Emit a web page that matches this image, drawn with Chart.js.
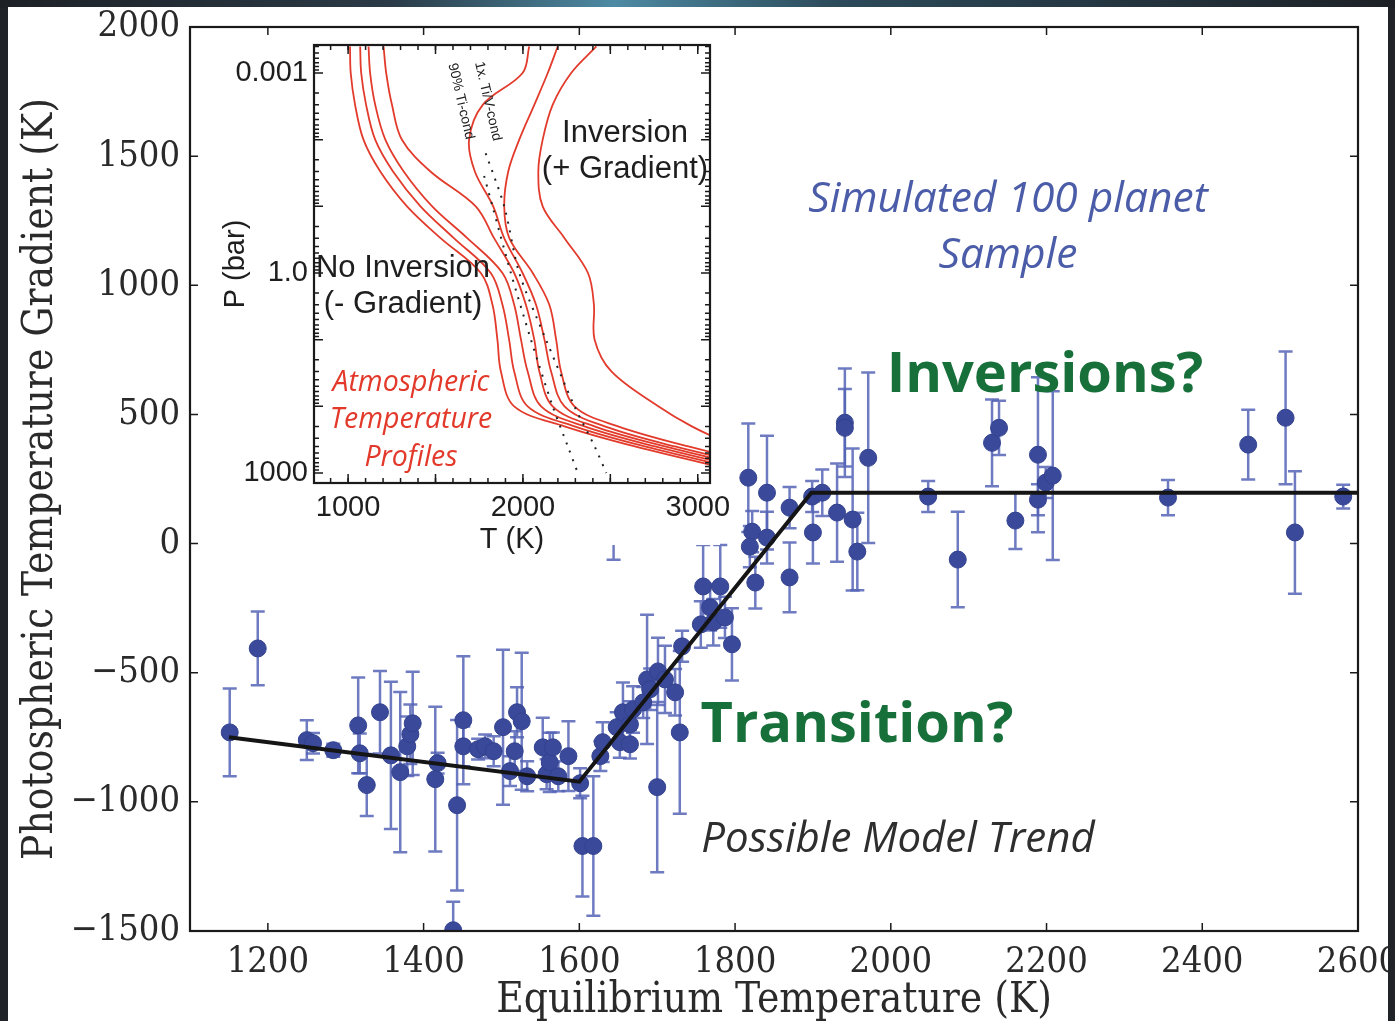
<!DOCTYPE html>
<html>
<head>
<meta charset="utf-8">
<script src="https://cdn.jsdelivr.net/npm/chart.js@4.4.1/dist/chart.umd.min.js"></script>
<style>
  html, body { margin: 0; padding: 0; }
  body { width: 1395px; height: 1021px; background: #202327; position: relative; overflow: hidden; }
  #topglow { position: absolute; left: 0; top: 0; width: 1395px; height: 8px;
    background: linear-gradient(90deg, #1d2126 0%, #2a3a46 28%, #4d8aa3 44%, #2c4a5a 60%, #1d2126 100%); }
  #panel { position: absolute; left: 8px; top: 7px; width: 1380px; height: 1014px; background: #fff; }
  #mainCanvas { position: absolute; left: 0; top: 0; }
  #insetCanvas { position: absolute; left: 192px; top: 31px; }
  .note { position: absolute; white-space: nowrap; transform: translate(-50%, -50%); z-index: 5; line-height: 1; }
  .big { font-family: "Open Sans", sans-serif; font-weight: 700; color: #17703a; font-size: 56px; }
  .blue { font-family: "Open Sans", sans-serif; font-style: italic; color: #4b5ca8; font-size: 42.5px; }
  .trend { font-family: "Open Sans", sans-serif; font-style: italic; color: #2e2e2e; font-size: 42px; }
  .ins { font-family: "Liberation Sans", Arial, sans-serif; color: #1e1e1e; font-size: 31px; }
  .red { font-family: "Open Sans", sans-serif; font-style: italic; color: #e2392a; font-size: 28.5px; }
  .cond { font-family: "Liberation Sans", Arial, sans-serif; color: #222; font-size: 14px;
    transform: translate(-50%, -50%) rotate(77deg); }
</style>
</head>
<body>
<div id="topglow"></div>
<div id="panel">
  <canvas id="mainCanvas" width="1380" height="1014"></canvas>
  <canvas id="insetCanvas" width="545" height="520"></canvas>
</div>

<div class="note blue" style="left:1008px; top:196px;">Simulated 100 planet</div>
<div class="note blue" style="left:1008px; top:252px;">Sample</div>
<div class="note big" style="left:1045px; top:370px;">Inversions?</div>
<div class="note big" style="left:857px; top:720px;">Transition?</div>
<div class="note trend" style="left:898px; top:836px;">Possible Model Trend</div>

<div class="note ins" style="left:625px; top:131px;">Inversion</div>
<div class="note ins" style="left:625px; top:167px;">(+ Gradient)</div>
<div class="note ins" style="left:403px; top:266px;">No Inversion</div>
<div class="note ins" style="left:403px; top:302px;">(- Gradient)</div>
<div class="note red" style="left:411px; top:380px;">Atmospheric</div>
<div class="note red" style="left:411px; top:417px;">Temperature</div>
<div class="note red" style="left:411px; top:455px;">Profiles</div>
<div class="note cond" style="left:489px; top:101px;">1x. Ti/V-cond</div>
<div class="note cond" style="left:462px; top:101px;">90% Ti-cond</div>

<script>
// ---- main chart data ----
const planetTemp = [1151, 1187, 1250, 1258, 1284, 1316, 1318, 1327, 1344, 1358,
  1370, 1379, 1383, 1386, 1418, 1415, 1443, 1438, 1451, 1451,
  1470, 1479, 1490, 1502, 1511, 1517, 1520, 1526, 1533, 1553,
  1558, 1562, 1566, 1573, 1586, 1601, 1604, 1618, 1627, 1630,
  1648, 1656, 1652, 1665, 1665, 1669, 1682, 1687, 1691, 1701,
  1710, 1723, 1700, 1729, 1732, 1756, 1768, 1772, 1787, 1796,
  1759, 1781, 1817, 1841, 1822, 1819, 1841, 1826, 1870, 1870,
  1899, 1912, 1900, 1931, 1941, 1941, 1951, 1957, 1971, 2048,
  2086, 2130, 2139, 2160, 2189, 2189, 2199, 2208, 2356, 2459,
  2507, 2519, 2581, 1644];
const planetGrad = [-731, -406, -761, -773, -800, -704, -812, -935, -653, -820,
  -885, -785, -738, -696, -850, -912, -1013, -1497, -684, -785,
  -796, -785, -804, -711, -881, -804, -653, -688, -901, -789,
  -893, -847, -789, -901, -823, -928, -1171, -1171, -823, -769,
  -711, -653, -769, -777, -700, -642, -615, -526, -564, -495,
  -526, -576, -943, -731, -398, -313, -247, -305, -286, -390,
  -166, -166, 255, 197, 46, -12, 23, -151, 139, -131,
  182, 197, 43, 120, 468, 448, 93, -31, 332, 182,
  -62, 390, 448, 89, 344, 170, 236, 263, 178, 383,
  487, 43, 182, 247];
const planetErr = [170, 143, 77, 40, 25, 185, 77, 120, 160, 285,
  310, 115, 115, 200, 40, 280, 330, 110, 248, 77,
  40, 46, 58, 300, 58, 77, 97, 265, 58, 115,
  58, 115, 58, 58, 135, 58, 195, 270, 58, 77,
  58, 115, 60, 55, 90, 90, 60, 250, 80, 130,
  130, 90, 330, 315, 60, 90, 90, 90, 80, 140,
  160, 160, 210, 220, 80, 80, 100, 100, 80, 135,
  60, 90, 120, 190, 210, 150, 275, 150, 330, 60,
  185, 168, 105, 110, 300, 60, 60, 327, 68, 135,
  257, 237, 46, 310];

const trendTemp = [1150, 1600, 1898, 2600];
const trendGrad = [-750, -922, 197, 197];

const xTicks = [1200, 1400, 1600, 1800, 2000, 2200, 2400, 2600];
const yTicks = [-1500, -1000, -500, 0, 500, 1000, 1500, 2000];

// ---- inset data (temperature profiles) ----
const profileP = [4e-4, 1e-3, 3e-3, 0.01, 0.03, 0.1, 0.3, 1, 3, 10, 30, 100, 200, 400, 1000];
const profile1 = [1011, 1015, 1040, 1088, 1184, 1337, 1529, 1759, 1826, 1854, 1874, 1950, 2238, 2640, 3272];
const profile2 = [1069, 1075, 1103, 1155, 1257, 1414, 1605, 1816, 1883, 1921, 1950, 2027, 2295, 2697, 3330];
const profile3 = [1117, 1126, 1155, 1213, 1318, 1481, 1682, 1883, 1950, 1989, 2027, 2104, 2353, 2755, 3387];
const profile4 = [1203, 1218, 1251, 1308, 1471, 1730, 1835, 1950, 2017, 2065, 2094, 2170, 2410, 2812, 3445];
const profile5 = [2036, 1998, 1770, 1692, 1725, 1830, 1893, 1998, 2075, 2123, 2161, 2238, 2468, 2870, 3502];
const profile6 = [2199, 2142, 2065, 1979, 1916, 1893, 1922, 2056, 2151, 2190, 2218, 2295, 2544, 2946, 3579];
const profile7 = [2420, 2276, 2170, 2113, 2088, 2113, 2238, 2372, 2406, 2410, 2506, 2774, 2966, 3215, 3600];
const profiles = [profile1, profile2, profile3, profile4, profile5, profile6, profile7];

const condTiVP = [0.016, 0.1, 1, 10, 100, 400, 1000];
const condTiVT = [1787, 1893, 1979, 2132, 2295, 2410, 2477];
const condTi90P = [0.035, 0.1, 1, 10, 100, 400, 1000];
const condTi90T = [1778, 1826, 1931, 2046, 2170, 2257, 2314];

const insetXTicks = [1000, 2000, 3000];
const insetYTicks = [0.001, 1, 1000];
const insetYTickLabels = ['0.001', '1.0', '1000'];

const serif = "'DejaVu Serif Condensed', 'DejaVu Serif', serif";
const sans = "'Liberation Sans', Arial, sans-serif";

// drop the overflow padding chart.js adds for edge labels, keeps the plot box where we want it
const noEdgePad = s => { s.paddingLeft = 0; s.paddingRight = 0; s.paddingTop = 0; s.paddingBottom = 0; };

// error bars under the markers
const errorBars = {
  id: 'errorBars',
  beforeDatasetsDraw(chart) {
    const { ctx, chartArea: a, scales: { x, y } } = chart;
    ctx.save();
    ctx.beginPath();
    ctx.rect(a.left, a.top, a.right - a.left, a.bottom - a.top);
    ctx.clip();
    ctx.strokeStyle = 'rgba(85, 100, 182, 0.85)';
    ctx.lineWidth = 2.5;
    planetTemp.forEach((t, i) => {
      const px = x.getPixelForValue(t);
      const top = y.getPixelForValue(planetGrad[i] + planetErr[i]);
      const bot = y.getPixelForValue(planetGrad[i] - planetErr[i]);
      ctx.beginPath();
      ctx.moveTo(px, top); ctx.lineTo(px, bot);
      ctx.moveTo(px - 7, top); ctx.lineTo(px + 7, top);
      ctx.moveTo(px - 7, bot); ctx.lineTo(px + 7, bot);
      ctx.stroke();
    });
    ctx.restore();
  }
};

// frame plus inward ticks (matplotlib look)
const frameTicks = {
  id: 'frameTicks',
  afterDraw(chart, args, opts) {
    const { ctx, chartArea: a, scales: { x, y } } = chart;
    const inX = v => v >= x.min && v <= x.max;
    const inY = v => v >= y.min && v <= y.max;
    ctx.save();
    ctx.strokeStyle = '#1a1a1a';
    const drawX = (v, len) => {
      const px = x.getPixelForValue(v);
      ctx.beginPath();
      ctx.moveTo(px, a.bottom); ctx.lineTo(px, a.bottom - len);
      ctx.moveTo(px, a.top); ctx.lineTo(px, a.top + len);
      ctx.stroke();
    };
    const drawY = (v, len) => {
      const py = y.getPixelForValue(v);
      ctx.beginPath();
      ctx.moveTo(a.left, py); ctx.lineTo(a.left + len, py);
      ctx.moveTo(a.right, py); ctx.lineTo(a.right - len, py);
      ctx.stroke();
    };
    ctx.lineWidth = 1.5;
    (opts.xMajor || []).filter(inX).forEach(v => drawX(v, opts.major));
    (opts.xMinor || []).filter(inX).forEach(v => drawX(v, opts.minor));
    (opts.yMajor || []).filter(inY).forEach(v => drawY(v, opts.major));
    (opts.yMinor || []).filter(inY).forEach(v => drawY(v, opts.minor));
    ctx.lineWidth = opts.width || 2;
    ctx.strokeRect(a.left, a.top, a.right - a.left, a.bottom - a.top);
    ctx.restore();
  }
};

new Chart(document.getElementById('mainCanvas'), {
  type: 'scatter',
  data: {
    datasets: [
      {
        data: trendTemp.map((t, i) => ({ x: t, y: trendGrad[i] })),
        showLine: true,
        borderColor: '#151515',
        borderWidth: 4,
        pointRadius: 0
      },
      {
        data: planetTemp.map((t, i) => ({ x: t, y: planetGrad[i] })),
        pointRadius: 8.5,
        backgroundColor: '#3a4999',
        borderColor: '#33428f',
        borderWidth: 1
      }
    ]
  },
  options: {
    responsive: false,
    animation: false,
    devicePixelRatio: 1,
    layout: { padding: { top: 20, right: 30, left: 0, bottom: 0 } },
    plugins: {
      legend: { display: false },
      tooltip: { enabled: false },
      frameTicks: { xMajor: xTicks, yMajor: yTicks, major: 8, minor: 4, width: 2.2 }
    },
    scales: {
      x: {
        type: 'linear', min: 1100, max: 2600,
        afterBuildTicks: s => { s.ticks = xTicks.map(v => ({ value: v })); },
        afterFit: s => { s.height = 90; noEdgePad(s); },
        grid: { display: false, drawTicks: false },
        border: { display: false },
        ticks: { padding: 10, color: '#2a2a2a', font: { family: serif, size: 36 }, maxRotation: 0,
          callback: v => String(v) },
        title: { display: true, text: 'Equilibrium Temperature (K)', color: '#2a2a2a',
          font: { family: serif, size: 42 }, padding: { top: 0, bottom: -5 } }
      },
      y: {
        type: 'linear', min: -1500, max: 2000,
        afterBuildTicks: s => { s.ticks = yTicks.map(v => ({ value: v })); },
        afterFit: s => { s.width = 182; noEdgePad(s); },
        grid: { display: false, drawTicks: false },
        border: { display: false },
        ticks: { padding: 10, color: '#2a2a2a', font: { family: serif, size: 36 },
          callback: v => String(v).replace('-', '\u2212') },
        title: { display: true, text: 'Photospheric Temperature Gradient (K)', color: '#2a2a2a',
          font: { family: serif, size: 42 }, padding: { top: 8, bottom: 0 } }
      }
    }
  },
  plugins: [errorBars, frameTicks]
});

// ---- inset ----
const insetWhite = {
  id: 'insetWhite',
  beforeDraw(chart) {
    const ctx = chart.ctx;
    ctx.save();
    ctx.fillStyle = '#ffffff';
    ctx.fillRect(0, 0, 520, 507);
    ctx.restore();
  }
};

const logMinor = [];
for (let e = -4; e <= 3; e++) {
  for (let k = 2; k <= 9; k++) logMinor.push(k * Math.pow(10, e));
}
const logMajor = [1e-4, 1e-3, 1e-2, 1e-1, 1, 10, 100, 1000];
const tMinor = [];
for (let t = 900; t <= 3000; t += 100) tMinor.push(t);
const tMajor = [1000, 1500, 2000, 2500, 3000];

const profileSets = profiles.map(p => ({
  data: p.map((t, i) => ({ x: t, y: profileP[i] })),
  showLine: true,
  borderColor: '#e23b2c',
  borderWidth: 1.8,
  pointRadius: 0,
  tension: 0.35
}));
const condSet = (tArr, pArr) => ({
  data: tArr.map((t, i) => ({ x: t, y: pArr[i] })),
  showLine: true,
  borderColor: '#222',
  borderWidth: 2,
  borderDash: [2, 7],
  pointRadius: 0,
  tension: 0.3
});

new Chart(document.getElementById('insetCanvas'), {
  type: 'scatter',
  data: { datasets: [condSet(condTiVT, condTiVP), condSet(condTi90T, condTi90P), ...profileSets] },
  options: {
    responsive: false,
    animation: false,
    devicePixelRatio: 1,
    layout: { padding: { top: 7, right: 35, left: 0, bottom: 0 } },
    plugins: {
      legend: { display: false },
      tooltip: { enabled: false },
      frameTicks: { xMajor: tMajor, xMinor: tMinor, yMajor: logMajor, yMinor: logMinor, major: 9, minor: 5, width: 2.2 }
    },
    scales: {
      x: {
        type: 'linear', min: 805, max: 3070,
        afterBuildTicks: s => { s.ticks = insetXTicks.map(v => ({ value: v })); },
        afterFit: s => { s.height = 75; noEdgePad(s); },
        grid: { display: false, drawTicks: false },
        border: { display: false },
        ticks: { padding: 8, color: '#1e1e1e', font: { family: sans, size: 29 }, maxRotation: 0,
          callback: v => String(v) },
        title: { display: true, text: 'T (K)', color: '#1e1e1e',
          font: { family: sans, size: 29 }, padding: { top: 0, bottom: 1 } }
      },
      y: {
        type: 'logarithmic', reverse: true, min: 3.8e-4, max: 1413,
        afterBuildTicks: s => { s.ticks = insetYTicks.map(v => ({ value: v })); },
        afterFit: s => { s.width = 114; noEdgePad(s); },
        grid: { display: false, drawTicks: false },
        border: { display: false },
        ticks: { padding: 6, color: '#1e1e1e', font: { family: sans, size: 29 },
          callback: v => insetYTickLabels[insetYTicks.indexOf(v)] ?? '' },
        title: { display: true, text: 'P (bar)', color: '#1e1e1e',
          font: { family: sans, size: 29 }, padding: { top: 19, bottom: 0 } }
      }
    }
  },
  plugins: [insetWhite, frameTicks]
});
</script>
</body>
</html>
